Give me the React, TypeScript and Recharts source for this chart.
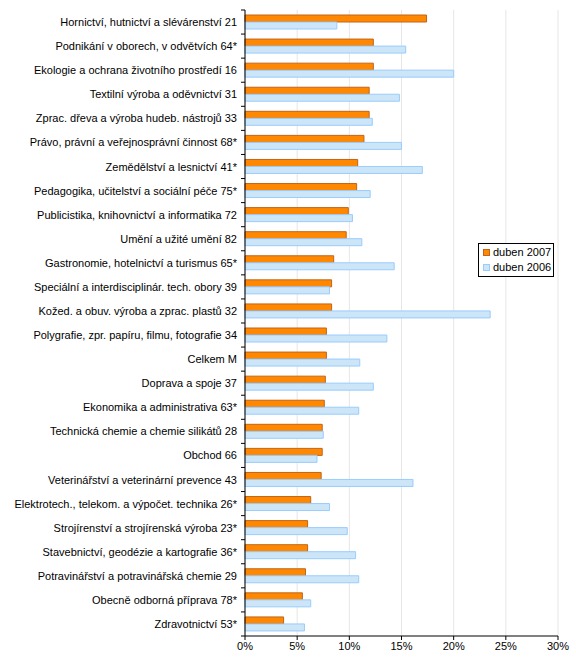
import React from 'react';
import {
  BarChart,
  Bar,
  XAxis,
  YAxis,
  CartesianGrid,
} from 'recharts';

// obory vzdělání (kategorie shora dolů)
const categories = [
  'Hornictví, hutnictví a slévárenství 21',
  'Podnikání v oborech, v odvětvích 64*',
  'Ekologie a ochrana životního prostředí 16',
  'Textilní výroba a oděvnictví 31',
  'Zprac. dřeva a výroba hudeb. nástrojů 33',
  'Právo, právní a veřejnosprávní činnost 68*',
  'Zemědělství a lesnictví 41*',
  'Pedagogika, učitelství a sociální péče 75*',
  'Publicistika, knihovnictví a informatika 72',
  'Umění a užité umění 82',
  'Gastronomie, hotelnictví a turismus 65*',
  'Speciální a interdisciplinár. tech. obory 39',
  'Kožed. a obuv. výroba a zprac. plastů 32',
  'Polygrafie, zpr. papíru, filmu, fotografie 34',
  'Celkem M',
  'Doprava a spoje 37',
  'Ekonomika a administrativa 63*',
  'Technická chemie a chemie silikátů 28',
  'Obchod 66',
  'Veterinářství a veterinární prevence 43',
  'Elektrotech., telekom. a výpočet. technika 26*',
  'Strojírenství a strojírenská výroba 23*',
  'Stavebnictví, geodézie a kartografie 36*',
  'Potravinářství a potravinářská chemie 29',
  'Obecně odborná příprava 78*',
  'Zdravotnictví 53*',
];

const duben2007 = [
  17.4, 12.3, 12.3, 11.9, 11.9, 11.4, 10.8, 10.7, 9.9, 9.7, 8.5, 8.3, 8.3,
  7.8, 7.8, 7.7, 7.6, 7.4, 7.4, 7.3, 6.3, 6.0, 6.0, 5.8, 5.5, 3.7,
];

const duben2006 = [
  8.8, 15.4, 20.0, 14.8, 12.2, 15.0, 17.0, 12.0, 10.3, 11.2, 14.3, 8.1, 23.5,
  13.6, 11.0, 12.3, 10.9, 7.5, 6.9, 16.1, 8.1, 9.8, 10.6, 10.9, 6.3, 5.7,
];

const xTicks = [0, 5, 10, 15, 20, 25, 30];

const series = [
  { key: 'y2007', label: 'duben 2007', fill: '#ff8800', stroke: '#c0651a' },
  { key: 'y2006', label: 'duben 2006', fill: '#cce5f7', stroke: '#99ccff' },
];

const FONT = '"Liberation Sans", Arial, sans-serif';

const chartData = categories.map((name, i) => ({
  name,
  y2007: duben2007[i],
  y2006: duben2006[i],
}));

const CategoryTick = (props: any) => {
  const { x, y, payload, index } = props;
  const half = payload?.offset ?? 12;
  const axisX = x + 8;
  return (
    <g>
      <text
        x={x}
        y={y}
        textAnchor="end"
        dominantBaseline="central"
        fontFamily={FONT}
        fontSize={11}
        fill="#000"
      >
        {payload.value}
      </text>
      <line x1={axisX - 4} x2={axisX} y1={y - half} y2={y - half} stroke="#000" />
      {index === categories.length - 1 && (
        <line x1={axisX - 4} x2={axisX} y1={y + half} y2={y + half} stroke="#000" />
      )}
    </g>
  );
};

// legenda vpravo uprostřed, mimo layout grafu
const LegendBox = () => (
  <div
    style={{
      position: 'absolute',
      left: 478,
      top: 243,
      border: '1px solid #000',
      background: '#fff',
      padding: '1px 2px 1px 4px',
      fontFamily: FONT,
      fontSize: 11,
      lineHeight: '15px',
      color: '#000',
    }}
  >
    {series.map((item) => (
      <div key={item.label} style={{ display: 'flex', alignItems: 'center', whiteSpace: 'nowrap' }}>
        <span
          style={{
            display: 'inline-block',
            width: 5,
            height: 5,
            background: item.fill,
            border: `1px solid ${item.stroke}`,
            marginRight: 3,
          }}
        />
        {item.label}
      </div>
    ))}
  </div>
);

export default function App() {
  return (
    <div style={{ position: 'absolute', left: 0, top: 0, width: 576, height: 671, background: '#fff' }}>
      <BarChart
        width={576}
        height={671}
        data={chartData}
        layout="vertical"
        margin={{ top: 10, right: 18, left: 8, bottom: 15 }}
        barGap={0}
        barSize={7}
      >
        <CartesianGrid horizontal={false} stroke="#e6e6e6" />
        <XAxis
          type="number"
          domain={[0, 30]}
          ticks={xTicks}
          tickFormatter={(v) => `${v}%`}
          axisLine={{ stroke: '#000' }}
          tickLine={{ stroke: '#000' }}
          tickSize={4}
          height={20}
          tick={{ fill: '#000', fontSize: 11, fontFamily: FONT }}
          interval={0}
        />
        <YAxis
          type="category"
          dataKey="name"
          width={237}
          axisLine={{ stroke: '#000' }}
          tickLine={false}
          tickSize={0}
          tickMargin={8}
          interval={0}
          tick={<CategoryTick />}
        />
        {series.map((s) => (
          <Bar
            key={s.key}
            dataKey={s.key}
            name={s.label}
            fill={s.fill}
            stroke={s.stroke}
            strokeWidth={1}
            isAnimationActive={false}
          />
        ))}
      </BarChart>
      <LegendBox />
    </div>
  );
}
